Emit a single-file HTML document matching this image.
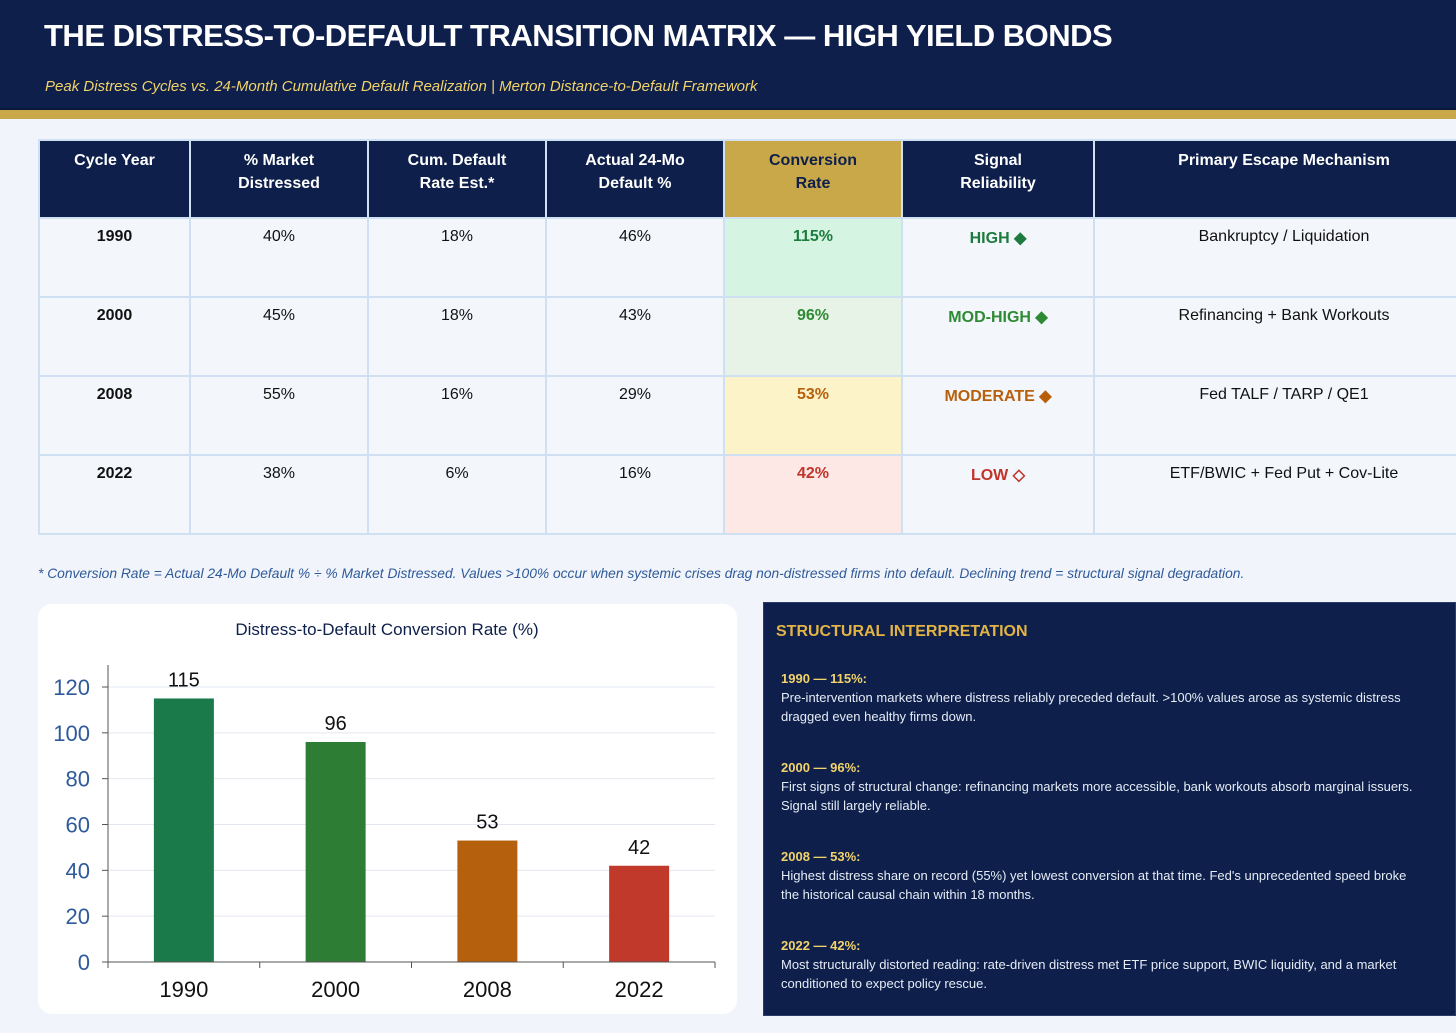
<!DOCTYPE html>
<html><head><meta charset="utf-8">
<style>
*{box-sizing:border-box;margin:0;padding:0}
body{width:1456px;height:1033px;background:#f1f5fb;font-family:"Liberation Sans",sans-serif;position:relative;overflow:hidden}
#hdr{position:absolute;left:0;top:0;width:1456px;height:110px;background:#0d1f4a;border-bottom:2px solid #0a1a3e}
#gold{position:absolute;left:0;top:110px;width:1456px;height:9px;background:#c9a84a}
h1{position:absolute;left:44px;top:18px;color:#fff;font-size:31px;font-weight:bold;letter-spacing:-0.5px;white-space:nowrap}
#sub{position:absolute;left:45px;top:78px;color:#f2d36b;font-size:15px;font-style:italic;white-space:nowrap}
table{position:absolute;left:38px;top:139px;width:1435px;border-collapse:collapse;table-layout:fixed}
td,th{border:2px solid #cfe0f3;text-align:center;vertical-align:top;font-size:16px}
th{background:#0d1f4a;color:#fff;height:78px;padding-top:8px;line-height:23px;font-weight:bold}
th.cv{background:#c9a84a;color:#0d1f4a}
td{height:79px;padding-top:9px;color:#111;background:#f3f6fb}
td.y{font-weight:bold}
#note{position:absolute;left:38px;top:566px;font-size:13.8px;font-style:italic;color:#2f5a9a;white-space:nowrap}
#chartbox{position:absolute;left:38px;top:604px;width:699px;height:410px;background:#fff;border-radius:14px}
#panel{position:absolute;left:763px;top:602px;width:693px;height:414px;background:#0d1f4a;border:1px solid #2a3d6a}
#panel h2{position:absolute;left:12px;top:20px;color:#e2b445;font-size:16px;font-weight:bold}
.blk{position:absolute;left:17px;width:640px;font-size:13px;line-height:19px;color:#e6ecf6}
.blk b{color:#f2d36b;display:block}
</style></head><body>
<div id="hdr">
<h1>THE DISTRESS-TO-DEFAULT TRANSITION MATRIX — HIGH YIELD BONDS</h1>
<div id="sub">Peak Distress Cycles vs. 24-Month Cumulative Default Realization | Merton Distance-to-Default Framework</div>
</div>
<div id="gold"></div>
<table>
<colgroup><col style="width:151px"><col style="width:178px"><col style="width:178px"><col style="width:178px"><col style="width:178px"><col style="width:192px"><col style="width:380px"></colgroup>
<tr><th>Cycle Year</th><th>% Market<br>Distressed</th><th>Cum. Default<br>Rate Est.*</th><th>Actual 24-Mo<br>Default %</th><th class="cv">Conversion<br>Rate</th><th>Signal<br>Reliability</th><th>Primary Escape Mechanism</th></tr>
<tr><td class="y">1990</td><td>40%</td><td>18%</td><td>46%</td><td style="background:#d5f4e2;color:#1e7b3e;font-weight:bold">115%</td><td style="color:#1e7b3e;font-weight:bold">HIGH ◆</td><td>Bankruptcy / Liquidation</td></tr>
<tr><td class="y">2000</td><td>45%</td><td>18%</td><td>43%</td><td style="background:#e6f3e6;color:#2e8a34;font-weight:bold">96%</td><td style="color:#2e8a34;font-weight:bold">MOD-HIGH ◆</td><td>Refinancing + Bank Workouts</td></tr>
<tr><td class="y">2008</td><td>55%</td><td>16%</td><td>29%</td><td style="background:#fdf3c9;color:#b85f0c;font-weight:bold">53%</td><td style="color:#b85f0c;font-weight:bold">MODERATE ◆</td><td>Fed TALF / TARP / QE1</td></tr>
<tr><td class="y">2022</td><td>38%</td><td>6%</td><td>16%</td><td style="background:#fde8e6;color:#c0352b;font-weight:bold">42%</td><td style="color:#c0352b;font-weight:bold">LOW ◇</td><td>ETF/BWIC + Fed Put + Cov-Lite</td></tr>
</table>
<div id="note">* Conversion Rate = Actual 24-Mo Default % ÷ % Market Distressed. Values &gt;100% occur when systemic crises drag non-distressed firms into default. Declining trend = structural signal degradation.</div>
<div id="chartbox">
<svg id="chart" width="699" height="410"></svg>
</div>
<div id="panel">
<h2>STRUCTURAL INTERPRETATION</h2>
<div class="blk" style="top:66px"><b>1990 — 115%:</b>Pre-intervention markets where distress reliably preceded default. &gt;100% values arose as systemic distress dragged even healthy firms down.</div>
<div class="blk" style="top:155px"><b>2000 — 96%:</b>First signs of structural change: refinancing markets more accessible, bank workouts absorb marginal issuers. Signal still largely reliable.</div>
<div class="blk" style="top:244px"><b>2008 — 53%:</b>Highest distress share on record (55%) yet lowest conversion at that time. Fed's unprecedented speed broke the historical causal chain within 18 months.</div>
<div class="blk" style="top:333px"><b>2022 — 42%:</b>Most structurally distorted reading: rate-driven distress met ETF price support, BWIC liquidity, and a market conditioned to expect policy rescue.</div>
</div>
<script>
const categories=["1990","2000","2008","2022"];
const values=[115,96,53,42];
const yTicks=[0,20,40,60,80,100,120];
const barColors=["#1b7a4a","#2e7d34","#b5600c","#c0392b"];
const NS="http://www.w3.org/2000/svg";
const svg=document.getElementById('chart');
const X0=70,X1=677,Y0=358,YMAX=120,YPX=275;
function yS(v){return Y0-v/YMAX*YPX;}
const band=(X1-X0)/categories.length;
function xC(i){return X0+band*(i+0.5);}
function mk(t,a,txt){const e=document.createElementNS(NS,t);for(const k in a)e.setAttribute(k,a[k]);if(txt!==undefined)e.textContent=txt;svg.appendChild(e);return e;}
let t=mk('text',{x:349,y:31,'text-anchor':'middle','font-size':17,fill:'#0d1f4a'},'Distress-to-Default Conversion Rate (%)');


yTicks.forEach(v=>{
 if(v>0){const g=mk('line',{x1:X0,x2:X1,y1:yS(v),y2:yS(v),stroke:'#e3e8f0','stroke-width':1});
 
 }
 mk('line',{x1:X0-6,x2:X0,y1:yS(v),y2:yS(v),stroke:'#555'});
 const l=mk('text',{x:X0-18,y:yS(v)+8,'text-anchor':'end','font-size':22,fill:'#2f5a9a'},v);
 
 
});
categories.forEach((c,i)=>{
 const v=values[i];
 const r=mk('rect',{x:xC(i)-30,y:yS(v),width:60,height:Y0-yS(v),fill:barColors[i]});
 
 
 const vl=mk('text',{x:xC(i),y:yS(v)-12,'text-anchor':'middle','font-size':20,fill:'#111'},v);
 
 
 const xl=mk('text',{x:xC(i),y:Y0+35,'text-anchor':'middle','font-size':22,fill:'#111'},c);
 
 
});
for(let i=0;i<=categories.length;i++){mk('line',{x1:X0+band*i,x2:X0+band*i,y1:Y0,y2:Y0+6,stroke:'#555'});}
const ya=mk('line',{x1:X0,x2:X0,y1:Y0-297,y2:Y0,stroke:'#555'});


const xa=mk('line',{x1:X0,x2:X1,y1:Y0,y2:Y0,stroke:'#555'});


</script>
</body></html>
